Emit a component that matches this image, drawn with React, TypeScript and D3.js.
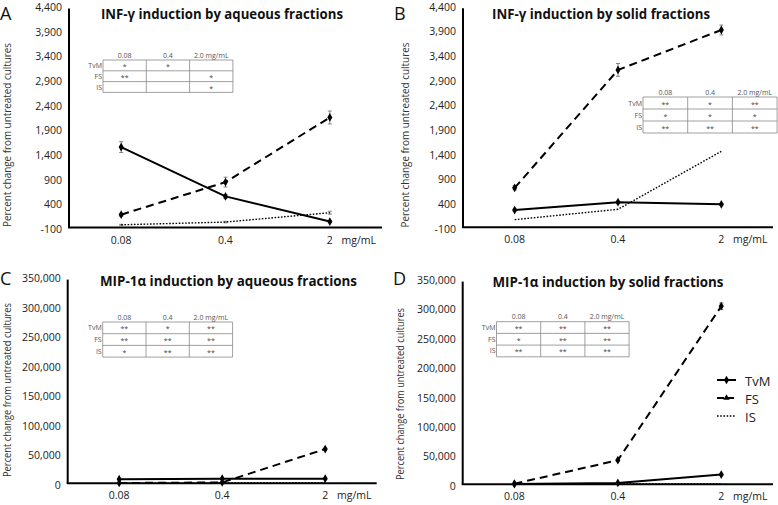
import React from "react";
import * as d3 from "d3";

const doses = ["0.08", "0.4", "2"];
const seriesNames = ["TvM", "FS", "IS"];
const tableCols = ["0.08", "0.4", "2.0 mg/mL"];

// Panel A: INF-γ aqueous
const aTvM = [1530, 530, 20];
const aFS = [160, 820, 2130];
const aIS = [-45, 10, 200];
const aTvMErr = [110, 40, 20];
const aFSErr = [30, 100, 130];
const aISErr = [10, 15, 30];
const aTicks = [-100, 400, 900, 1400, 1900, 2400, 2900, 3400, 3900, 4400];
const aSig = [["*", "*", ""], ["**", "", "*"], ["", "", "*"]];

// Panel B: INF-γ solid
const bTvM = [250, 410, 365];
const bFS = [700, 3090, 3900];
const bIS = [55, 265, 1440];
const bTvMErr = [20, 20, 20];
const bFSErr = [40, 130, 100];
const bISErr = [0, 0, 0];
const bTicks = aTicks;
const bSig = [["**", "*", "**"], ["*", "*", "*"], ["**", "**", "**"]];

// Panel C: MIP-1α aqueous
const cTvM = [7000, 7800, 7900];
const cFS = [500, 1500, 58000];
const cIS = [200, 400, 1000];
const cTvMErr = [400, 400, 600];
const cFSErr = [200, 300, 1500];
const cISErr = [0, 0, 0];
const cTicks = [0, 50000, 100000, 150000, 200000, 250000, 300000, 350000];
const cSig = [["**", "*", "**"], ["**", "**", "**"], ["*", "**", "**"]];

// Panel D: MIP-1α solid
const dTvM = [300, 2300, 16500];
const dFS = [1000, 41000, 303000];
const dIS = [100, 600, 500];
const dTvMErr = [200, 400, 800];
const dFSErr = [300, 1500, 5500];
const dISErr = [0, 0, 0];
const dTicks = cTicks;
const dSig = [["**", "**", "**"], ["*", "**", "**"], ["**", "**", "**"]];

const FONT = "'Open Sans', 'Noto Sans', sans-serif";
const fmt = (v: number) => d3.format(",")(v).replace("\u2212", "-");

const styles = [
  { dash: undefined as string | undefined, width: 2, marker: true },
  { dash: "8,5", width: 2, marker: true },
  { dash: "1.6,1.6", width: 1.4, marker: false },
];

type PanelProps = {
  letter: string;
  title: string;
  titleX: number;
  titleY: number;
  titleW: number;
  x0: number;
  x1: number;
  yBottom: number;
  yTop: number;
  ticks: number[];
  series: number[][];
  errs: number[][];
  sig: string[][];
  tbl: { left: number; top: number; colW: number; rowH: number };
  letterX: number;
  letterY: number;
  yTitleX: number;
  yTitleY: number;
  yTitleW: number;
};

function Panel(p: PanelProps) {
  const x = d3.scaleBand<string>().domain(doses).range([p.x0, p.x1]).padding(0);
  const y = d3
    .scaleLinear()
    .domain([p.ticks[0], p.ticks[p.ticks.length - 1]])
    .range([p.yBottom, p.yTop]);
  const cx = (d: string) => (x(d) as number) + x.bandwidth() / 2;
  const line = d3
    .line<number>()
    .x((_, i) => cx(doses[i]))
    .y((v) => y(v));
  const diamond = d3.symbol(d3.symbolDiamond, 22)() as string;
  const { left, top, colW, rowH } = p.tbl;
  return (
    <g>
      <text x={p.letterX} y={p.letterY} fontFamily={FONT} fontSize={18} dominantBaseline="central" fill="#111">
        {p.letter}
      </text>
      <text
        x={p.titleX}
        y={p.titleY}
        textAnchor="middle"
        dominantBaseline="central"
        fontFamily={FONT}
        fontWeight="bold"
        fontSize={14}
        textLength={p.titleW}
        lengthAdjust="spacingAndGlyphs"
        fill="#111"
      >
        {p.title}
      </text>
      <text
        transform={`translate(${p.yTitleX},${p.yTitleY}) rotate(-90)`}
        textAnchor="middle"
        dominantBaseline="central"
        fontFamily={FONT}
        fontSize={10}
        textLength={p.yTitleW}
        lengthAdjust="spacingAndGlyphs"
        fill="#333"
      >
        Percent change from untreated cultures
      </text>
      {p.ticks.map((t) => (
        <text
          key={t}
          x={p.x0 - 7}
          y={y(t) + 1.5}
          textAnchor="end"
          dominantBaseline="central"
          fontFamily={FONT}
          fontSize={10.5}
          fill="#222"
        >
          {fmt(t)}
        </text>
      ))}
      <line x1={p.x0} x2={p.x0} y1={y(p.ticks[p.ticks.length - 1]) + 3} y2={p.yBottom} stroke="#000" strokeWidth={2} />
      <line x1={p.x0 - 1} x2={p.x1} y1={p.yBottom} y2={p.yBottom} stroke="#000" strokeWidth={2} />
      {doses.map((d) => (
        <text key={d} x={cx(d)} y={p.yBottom + 12} textAnchor="middle" dominantBaseline="central" fontFamily={FONT} fontSize={10.5} fill="#222">
          {d}
        </text>
      ))}
      <text x={cx("2") + 29} y={p.yBottom + 12} textAnchor="middle" dominantBaseline="central" fontFamily={FONT} fontSize={10.5} fill="#222">
        mg/mL
      </text>
      {/* significance table */}
      <g fontFamily={FONT} fontSize={7} fill="#555">
        {tableCols.map((c, j) => (
          <text key={c} x={left + colW * (j + 0.5)} y={top - 5} textAnchor="middle" dominantBaseline="central">
            {c}
          </text>
        ))}
        {seriesNames.map((s, i) => (
          <text key={s} x={left - 1} y={top + rowH * (i + 0.5)} textAnchor="end" dominantBaseline="central">
            {s}
          </text>
        ))}
        {p.sig.map((row, i) =>
          row.map((c, j) => (
            <text key={`${i}-${j}`} x={left + colW * (j + 0.5)} y={top + rowH * (i + 0.5) + 1} textAnchor="middle" dominantBaseline="central" fill="#444">
              {c}
            </text>
          ))
        )}
        {[0, 1, 2, 3].map((i) => (
          <line key={`h${i}`} x1={left} x2={left + colW * 3} y1={top + rowH * i} y2={top + rowH * i} stroke="#888" strokeWidth={0.8} />
        ))}
        {[0, 1, 2, 3].map((j) => (
          <line key={`v${j}`} x1={left + colW * j} x2={left + colW * j} y1={top} y2={top + rowH * 3} stroke="#888" strokeWidth={0.8} />
        ))}
      </g>
      {/* series */}
      {p.series.map((vals, si) => (
        <g key={si}>
          {vals.map((v, i) =>
            p.errs[si][i] > 0 ? (
              <g key={i} stroke="#777" strokeWidth={0.9}>
                <line x1={cx(doses[i])} x2={cx(doses[i])} y1={y(v - p.errs[si][i])} y2={y(v + p.errs[si][i])} />
                <line x1={cx(doses[i]) - 2} x2={cx(doses[i]) + 2} y1={y(v - p.errs[si][i])} y2={y(v - p.errs[si][i])} />
                <line x1={cx(doses[i]) - 2} x2={cx(doses[i]) + 2} y1={y(v + p.errs[si][i])} y2={y(v + p.errs[si][i])} />
              </g>
            ) : null
          )}
          <path
            d={line(vals) as string}
            fill="none"
            stroke="#000"
            strokeWidth={styles[si].width}
            strokeDasharray={styles[si].dash}
          />
          {styles[si].marker &&
            vals.map((v, i) => (
              <path key={i} d={diamond} transform={`translate(${cx(doses[i])},${y(v)})`} fill="#000" />
            ))}
        </g>
      ))}
    </g>
  );
}

function Legend({ x, y }: { x: number; y: number }) {
  const diamond = d3.symbol(d3.symbolDiamond, 22)() as string;
  const tri = d3.symbol(d3.symbolTriangle, 18)() as string;
  const gap = 18;
  return (
    <g>
      {seriesNames.map((s, i) => (
        <g key={s} transform={`translate(${x},${y + i * gap})`}>
          <line x1={0} x2={19} y1={0} y2={0} stroke="#000" strokeWidth={styles[i].width} strokeDasharray={i === 1 ? "7,3" : styles[i].dash} />
          {i === 0 && <path d={diamond} transform="translate(9.5,0)" fill="#000" />}
          {i === 1 && <path d={tri} transform="translate(9.5,0)" fill="#000" />}
          <text x={28} y={1} dominantBaseline="central" fontFamily={FONT} fontSize={13} fill="#222">
            {s}
          </text>
        </g>
      ))}
    </g>
  );
}

export default function App() {
  return (
    <svg width={778} height={505} style={{ position: "absolute", left: 0, top: 0, background: "#fff" }}>
      <rect width={778} height={505} fill="#fff" />
      <Panel
        letter="A"
        title="INF-γ induction by aqueous fractions"
        titleX={222}
        titleY={13}
        titleW={242}
        x0={69}
        x1={382}
        yBottom={227.5}
        yTop={5.5}
        ticks={aTicks}
        series={[aTvM, aFS, aIS]}
        errs={[aTvMErr, aFSErr, aISErr]}
        sig={aSig}
        tbl={{ left: 103, top: 60, colW: 43.3, rowH: 10.8 }}
        letterX={0}
        letterY={13}
        yTitleX={7}
        yTitleY={135}
        yTitleW={184}
      />
      <Panel
        letter="B"
        title="INF-γ induction by solid fractions"
        titleX={601}
        titleY={13}
        titleW={218}
        x0={463}
        x1={773}
        yBottom={227.3}
        yTop={5.3}
        ticks={bTicks}
        series={[bTvM, bFS, bIS]}
        errs={[bTvMErr, bFSErr, bISErr]}
        sig={bSig}
        tbl={{ left: 643, top: 97, colW: 44.7, rowH: 12 }}
        letterX={394}
        letterY={13}
        yTitleX={405}
        yTitleY={135}
        yTitleW={185}
      />
      <Panel
        letter="C"
        title="MIP-1α induction by aqueous fractions"
        titleX={228.5}
        titleY={280}
        titleW={257}
        x0={67.7}
        x1={376.7}
        yBottom={483.3}
        yTop={276.6}
        ticks={cTicks}
        series={[cTvM, cFS, cIS]}
        errs={[cTvMErr, cFSErr, cISErr]}
        sig={cSig}
        tbl={{ left: 102.7, top: 322, colW: 43.3, rowH: 11.7 }}
        letterX={0}
        letterY={278}
        yTitleX={7}
        yTitleY={390}
        yTitleW={174}
      />
      <Panel
        letter="D"
        title="MIP-1α induction by solid fractions"
        titleX={608}
        titleY={281}
        titleW={231}
        x0={462.7}
        x1={773}
        yBottom={484.3}
        yTop={278.6}
        ticks={dTicks}
        series={[dTvM, dFS, dIS]}
        errs={[dTvMErr, dFSErr, dISErr]}
        sig={dSig}
        tbl={{ left: 496.5, top: 321.7, colW: 44.2, rowH: 11.7 }}
        letterX={393}
        letterY={278}
        yTitleX={400}
        yTitleY={394}
        yTitleW={172}
      />
      <Legend x={717} y={380} />
    </svg>
  );
}
